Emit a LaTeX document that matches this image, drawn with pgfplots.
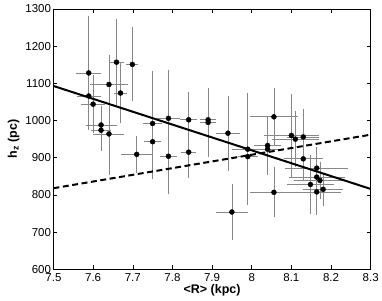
\documentclass[border=0pt]{standalone}
\usepackage{fontspec}
\setmainfont{Liberation Sans}
\usepackage{pgfplots}
\pgfplotsset{compat=1.18}
\usepackage{pgfplotstable}
\definecolor{errgray}{RGB}{135,135,135}
\pgfplotstableread{
x y ex ey
7.589 1128 0.021 142
7.589 1066 0.020 81
7.600 1044 0.020 67
7.640 1097 0.038 69
7.659 1157 0.008 104
7.669 1074 0.007 70
7.699 1151 0.005 89
7.620 988 0.029 40
7.620 974 0.015 45
7.640 964 0.029 100
7.710 909 0.029 39
7.750 992 0.013 130
7.750 943 0.012 90
7.790 1006 0.019 120
7.790 904 0.011 92
7.841 1002 0.012 65
7.841 915 0.009 59
7.890 1002 0.011 37
7.890 995 0.011 81
7.940 966 0.021 90
7.950 754 0.030 65
7.990 923 0.029 140
7.990 903 0.015 81
8.040 933 0.025 68
8.040 923 0.020 50
8.056 1010 0.050 67
8.056 807 0.050 56
8.100 960 0.059 100
8.110 950 0.050 65
8.130 956 0.030 65
8.130 897 0.039 50
8.164 872 0.069 45
8.164 848 0.060 50
8.172 839 0.055 40
8.148 828 0.050 68
8.164 808 0.050 50
8.180 815 0.040 33
}\datatable
\begin{document}
\begin{tikzpicture}
\begin{axis}[
  scale only axis, width=317.5pt, height=260.5pt,
  xmin=7.5, xmax=8.3, ymin=600, ymax=1300,
  xtick={7.5,7.6,7.7,7.8,7.9,8,8.1,8.2,8.3},
  ytick={600,700,800,900,1000,1100,1200,1300},
  tick align=inside, major tick length=4pt,
  /pgf/number format/assume math mode=true,
  /pgf/number format/1000 sep={},
  ticklabel style={font=\fontsize{11.5}{13}\selectfont},
  xticklabel style={yshift=-0.5pt},
  yticklabel style={xshift=1pt},
  xlabel={\textbf{<R> (kpc)}},
  ylabel={\textbf{h\textsubscript{z} (pc)}},
  label style={font=\fontsize{12.5}{14}\selectfont},
  xlabel style={yshift=4pt},
  ylabel style={yshift=-1pt},
  axis line style={black, line width=0.6pt},
  tick style={black, line width=0.5pt},
]
\addplot[only marks, mark=*, mark size=2.5pt, mark options={black, fill=black},
  error bars/.cd, x dir=both, x explicit, y dir=both, y explicit,
  error bar style={errgray, line width=0.7pt},
  error mark options={errgray, line width=0.7pt, mark size=4pt}]
  table[x=x, y=y, x error=ex, y error=ey]{\datatable};
\addplot[black, line width=2pt] coordinates {(7.5,1093) (8.3,816)};
\addplot[black, line width=2pt, dash pattern=on 6pt off 3.5pt] coordinates {(7.5,818) (8.3,962)};
\end{axis}
\path (current axis.south west) ++(-53.5pt,-31.5pt) coordinate (bbsw);
\path (current axis.north east) ++(11pt,9pt) coordinate (bbne);
\path (bbsw) rectangle (bbne);
\end{tikzpicture}
\end{document}
